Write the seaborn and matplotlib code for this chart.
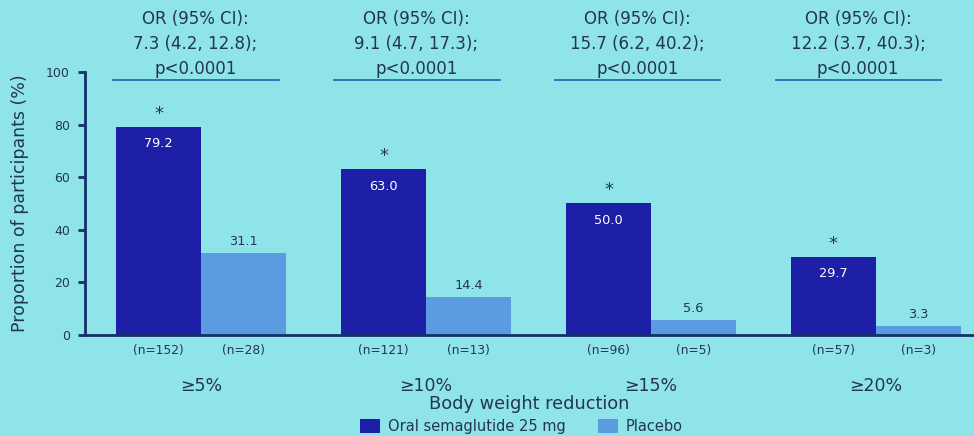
import matplotlib
matplotlib.use("Agg")
import matplotlib.pyplot as plt
import pandas as pd
import seaborn as sns

# data
categories = ['≥5%', '≥10%', '≥15%', '≥20%']
groups = ['Oral semaglutide 25 mg', 'Placebo']
sema = [79.2, 63.0, 50.0, 29.7]
placebo = [31.1, 14.4, 5.6, 3.3]
n_sema = ['(n=152)', '(n=121)', '(n=96)', '(n=57)']
n_placebo = ['(n=28)', '(n=13)', '(n=5)', '(n=3)']
or_text = ['OR (95% CI):\n7.3 (4.2, 12.8);\np<0.0001',
           'OR (95% CI):\n9.1 (4.7, 17.3);\np<0.0001',
           'OR (95% CI):\n15.7 (6.2, 40.2);\np<0.0001',
           'OR (95% CI):\n12.2 (3.7, 40.3);\np<0.0001']

bg = '#8ee4e8'
dark = '#1d1fa6'
light = '#5b9be0'
txt = '#24364f'
navy = '#16306a'

df = pd.DataFrame({
    'cat': categories * 2,
    'grp': [groups[0]] * 4 + [groups[1]] * 4,
    'val': sema + placebo,
})

plt.rcParams['font.family'] = ['DejaVu Sans']
fig = plt.figure(figsize=(9.74, 4.36), dpi=100, facecolor=bg)
ax = fig.add_axes([0.0873, 0.2317, 0.9127, 0.6032])
ax.set_facecolor(bg)

sns.barplot(data=df, x='cat', y='val', hue='grp', palette=[dark, light],
            width=0.756, gap=0, saturation=1, ax=ax, errorbar=None)

ax.set_ylim(0, 100)
ax.set_xlim(-0.516, 3.436)
ax.set_yticks([0, 20, 40, 60, 80, 100])
for s in ['top', 'right']:
    ax.spines[s].set_visible(False)
ax.spines['left'].set_color(navy)
ax.spines['left'].set_linewidth(2)
ax.spines['bottom'].set_color(navy)
ax.spines['bottom'].set_linewidth(2)
ax.tick_params(axis='y', length=5, width=2, color=navy, labelsize=9, labelcolor=txt, pad=6)
ax.tick_params(axis='x', length=0, labelsize=12.5, labelcolor=txt, pad=30)
ax.set_ylabel('Proportion of participants (%)', fontsize=12.5, color=txt, labelpad=12)
ax.set_xlabel('Body weight reduction', fontsize=12.8, color=txt, labelpad=0)

c_sema, c_plac = ax.containers[0], ax.containers[1]
ax.bar_label(c_sema, fmt='%.1f', padding=-17, color='white', fontsize=9.3)
ax.bar_label(c_plac, fmt='%.1f', padding=4, color=txt, fontsize=9.3)
ax.bar_label(c_sema, labels=['*'] * 4, padding=3, color=txt, fontsize=13)

# n labels under bars
trans = ax.get_xaxis_transform()
for bars, labs in [(c_sema, n_sema), (c_plac, n_placebo)]:
    for b, lab in zip(bars, labs):
        ax.text(b.get_x() + b.get_width() / 2, -0.06, lab, transform=trans,
                ha='center', va='center', fontsize=8.8, color=txt)

# odds ratio annotations with a rule under each
for i, t in enumerate(or_text):
    x0 = i * 0.982 - 0.025
    ax.text(x0, 110.5, t, ha='center', va='center', fontsize=12,
            color=txt, linespacing=1.5, clip_on=False)
    ax.plot([x0 - 0.365, x0 + 0.37], [97, 97], color='#2a6aa8', lw=1.3, clip_on=False)

ax.legend(loc='lower center', bbox_to_anchor=(0.535, -0.025), bbox_transform=fig.transFigure,
          ncol=2, frameon=False, fontsize=10.5, labelcolor=txt, handlelength=1.4,
          handleheight=1.1, columnspacing=2.2, handletextpad=0.5)

fig.savefig('out.png', dpi=100, facecolor=bg)
